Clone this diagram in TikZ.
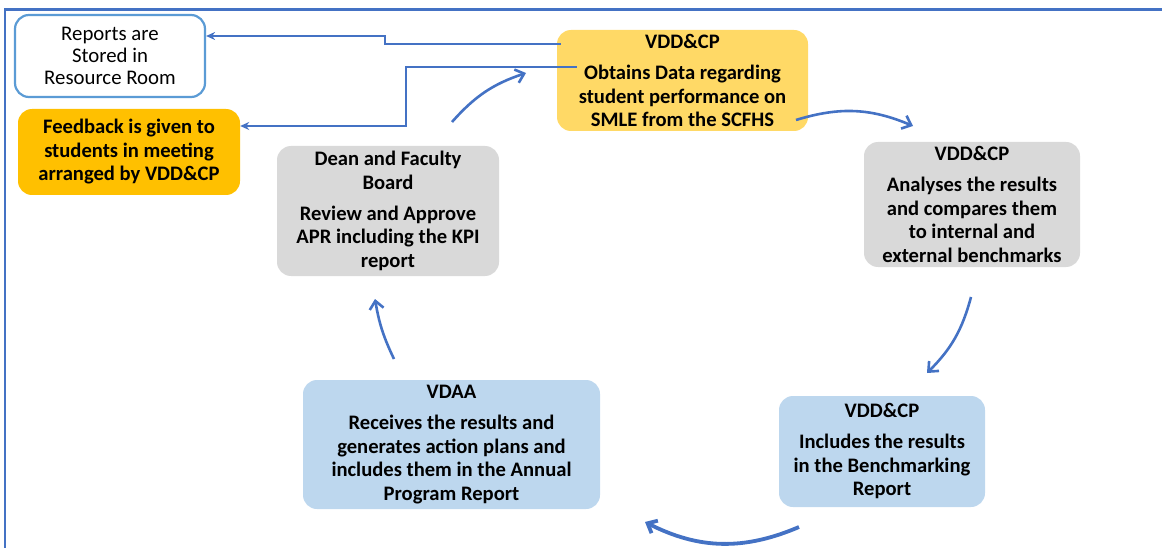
\documentclass[tikz,border=0pt]{standalone}
\usepackage{fontspec}
\setmainfont{Carlito}
\usetikzlibrary{arrows.meta}

\definecolor{lineblue}{HTML}{4472C4}
\definecolor{edgeblue}{HTML}{5B9BD5}
\definecolor{gold}{HTML}{FFC000}
\definecolor{lightgold}{HTML}{FFD966}
\definecolor{lightgray}{HTML}{D9D9D9}
\definecolor{paleblue}{HTML}{BDD7EE}

\begin{document}
\begin{tikzpicture}[x=1pt,y=1pt,
	box/.style={
		rounded corners=14pt, % General options for all boxes
		align=center,
		inner sep=0pt,
		font=\fontsize{20.6}{23.5}\selectfont\bfseries,
	},
	elbow/.style={draw=lineblue,line width=2.3pt,-{Stealth[length=9pt,width=8pt]}},
	turn/.style={draw=lineblue,line width=2.6pt,-{Straight Barb[length=8pt,width=14pt]}},
]
	\useasboundingbox (0,0) rectangle (1162,-548);
	\draw[lineblue,line width=2.2pt] (1163,-9.5) -- (5,-9.5) -- (5,-549);

	\node[box,draw=edgeblue,line width=2.2pt,fill=white,
		font=\fontsize{20.8}{22}\selectfont,
		minimum width=190pt,minimum height=82pt] (reports) at (110,-56)
		{Reports are\\Stored in\\Resource Room};
	\node[box,fill=gold,minimum width=222pt,minimum height=86pt] (feedback) at (129,-152)
		{Feedback is given to\\students in meeting\\arranged by VDD\&CP};
	\node[box,fill=lightgold,minimum width=251pt,minimum height=101pt] (obtain) at (682.5,-80.5)
		{VDD\&CP\\[7.5pt]Obtains Data regarding\\student performance on\\SMLE from the SCFHS};
	\node[box,fill=lightgray,minimum width=216pt,minimum height=125pt] (analyse) at (972,-204.5)
		{VDD\&CP\\[7.5pt]Analyses the results\\and compares them\\to internal and\\external benchmarks};
	\node[box,fill=paleblue,minimum width=206pt,minimum height=111pt] (bench) at (882,-451.5)
		{VDD\&CP\\[7.5pt]Includes the results\\in the Benchmarking\\Report};
	\node[box,fill=paleblue,minimum width=297pt,minimum height=129pt] (vdaa) at (451.5,-444.5)
		{VDAA\\[7.5pt]Receives the results and\\generates action plans and\\includes them in the Annual\\Program Report};
	\node[box,fill=lightgray,minimum width=222pt,minimum height=130pt] (dean) at (388,-211)
		{Dean and Faculty\\Board\\[7.5pt]Review and Approve\\APR including the KPI\\report};

	\draw[elbow] ([xshift=4pt]obtain.west |- 0,-44) -- (385,-44) |- (reports.east |- 0,-36);
	\draw[elbow] ([xshift=20pt]obtain.west |- 0,-67) -- (406,-67) |- (feedback.east |- 0,-126);

	\coordinate (dean-out) at (452,-122);
	\coordinate (obtain-in) at (526,-73);
	\coordinate (obtain-out) at (796,-120);
	\coordinate (analyse-in) at (913,-126);
	\coordinate (analyse-out) at (971,-297);
	\coordinate (bench-in) at (927,-373);
	\coordinate (bench-out) at (799,-527);
	\coordinate (vdaa-in) at (645,-522);
	\coordinate (vdaa-out) at (394,-359);
	\coordinate (dean-in) at (375,-299);
	\foreach \a/\b/\c in {dean-out/obtain-in/15,obtain-out/analyse-in/20,
		analyse-out/bench-in/15,vdaa-out/dean-in/8}{
		\draw[turn] (\a) to[bend left=\c] (\b);
	}
	\draw[turn,line width=3.8pt] (bench-out) to[bend left=25] (vdaa-in);
\end{tikzpicture}
\end{document}
